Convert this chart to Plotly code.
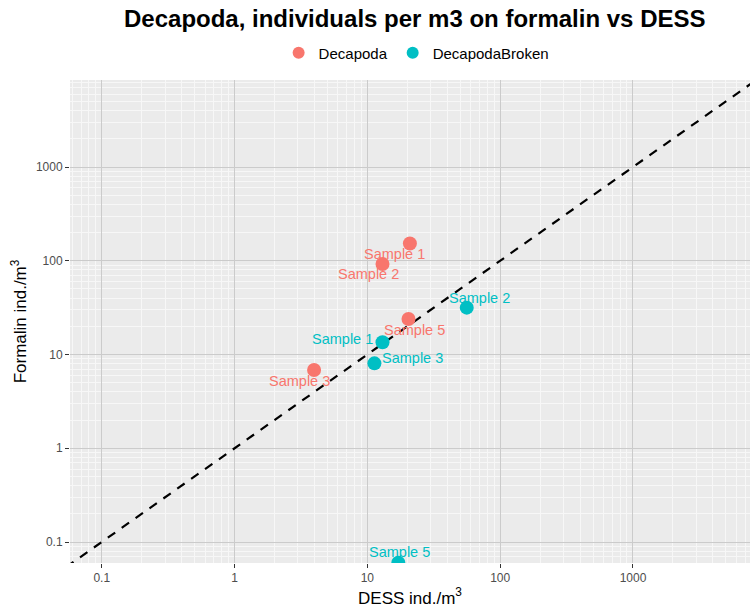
import numpy as np
import plotly.graph_objects as go

# Sample names shared by both groups
samples = ["Sample 1", "Sample 2", "Sample 3", "Sample 5"]

# Individuals per m3: DESS (x) vs formalin (y)
decapoda_dess = [20.9, 13.0, 3.97, 20.4]
decapoda_formalin = [153, 92.3, 6.83, 23.9]
broken_dess = [13.0, 56.0, 11.3, 17.1]
broken_formalin = [13.5, 31.6, 8.05, 0.06]

# Axis tick labels
tick_vals = [0.1, 1, 10, 100, 1000]
tick_text = ["0.1", "1", "10", "100", "1000"]

# Pixel offsets of the repelled text labels (x right, y up)
decapoda_label_shift = [(-15, -11), (-14, -10), (-15, -11), (6, -11)]
broken_label_shift = [(-40, 3), (13, 10), (38, 5), (1, 11)]

RED = "#F8766D"
CYAN = "#00BFC4"
FONT = "Liberation Sans, Arial, sans-serif"

x_range = [-1.239, 3.881]
y_range = [-1.224, 3.928]

fig = go.Figure()

# 1:1 reference line
line_ends = [10 ** -2, 10 ** 4.5]
fig.add_trace(go.Scatter(
    x=line_ends, y=line_ends, mode="lines",
    line=dict(color="black", width=2.2, dash="9px,8px"),
    showlegend=False, hoverinfo="skip",
))

groups = [
    ("Decapoda", decapoda_dess, decapoda_formalin, RED, decapoda_label_shift),
    ("DecapodaBroken", broken_dess, broken_formalin, CYAN, broken_label_shift),
]

annotations = []
for name, xs, ys, color, shifts in groups:
    fig.add_trace(go.Scatter(
        x=xs, y=ys, mode="markers", name=name,
        marker=dict(color=color, size=14, line=dict(width=0)),
        cliponaxis=True,
    ))
    for label, xv, yv, (dx, dy) in zip(samples, xs, ys, shifts):
        annotations.append(dict(
            x=np.log10(xv), y=np.log10(yv), xref="x", yref="y",
            text=label, showarrow=False, xshift=dx, yshift=dy,
            font=dict(family=FONT, size=14.5, color=color),
        ))

axis_common = dict(
    type="log",
    tickvals=tick_vals, ticktext=tick_text,
    showgrid=True, gridcolor="#cbcbcb", gridwidth=1.3,
    minor=dict(dtick="D1", showgrid=True, gridcolor="#f7f7f7", gridwidth=0.8,
               ticklen=0),
    ticks="outside", ticklen=4, tickcolor="#333333", tickwidth=1,
    tickfont=dict(family=FONT, size=12, color="#4d4d4d"),
    zeroline=False, showline=False,
)

fig.update_layout(
    width=750, height=608,
    margin=dict(l=70, r=0, t=80, b=45),
    paper_bgcolor="white", plot_bgcolor="#ebebeb",
    font=dict(family=FONT, color="black"),
    title=dict(
        text="<b>Decapoda, individuals per m3 on formalin vs DESS</b>",
        font=dict(family=FONT, size=24, color="black"),
        x=0.553, xref="container", xanchor="center",
        y=0.970, yref="container", yanchor="middle",
    ),
    legend=dict(
        orientation="h", x=0.509, xanchor="center", y=1.056, yanchor="middle",
        font=dict(family=FONT, size=15, color="black"),
        bgcolor="rgba(0,0,0,0)", itemsizing="constant",
    ),
    xaxis=dict(
        range=x_range,
        title=dict(text="DESS ind./m<sup>3</sup>",
                   font=dict(family=FONT, size=17, color="black"), standoff=5),
        **axis_common,
    ),
    yaxis=dict(
        range=y_range,
        title=dict(text="Formalin ind./m<sup>3</sup>",
                   font=dict(family=FONT, size=17, color="black"), standoff=4),
        **axis_common,
    ),
    annotations=annotations,
)

fig.write_html("out.html")
